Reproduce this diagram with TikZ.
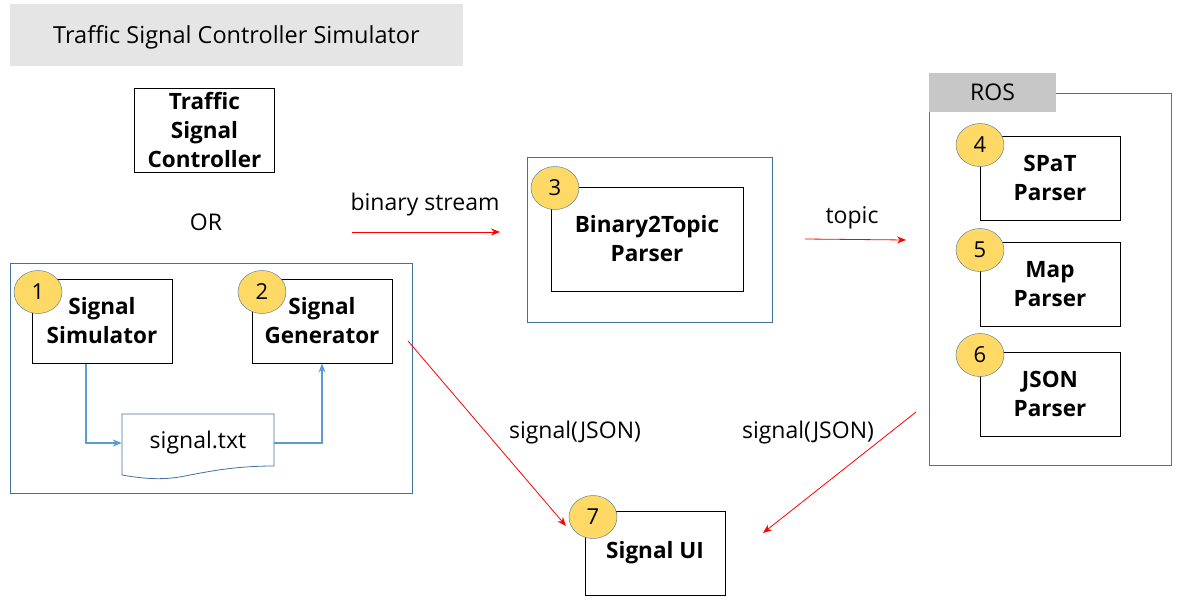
\documentclass[tikz,border=0pt]{standalone}
\usepackage{fontspec}
\setmainfont{Open Sans}
\usetikzlibrary{arrows.meta}
\definecolor{boxblue}{HTML}{41719C}
\definecolor{lineblue}{HTML}{5B9BD5}
\definecolor{numyellow}{HTML}{FFD966}
\tikzset{
  blk/.style={draw,line width=1pt,minimum width=140pt,minimum height=84pt,align=center,font=\fontsize{22.5}{29}\selectfont\bfseries},
  num/.style={draw=boxblue,fill=numyellow,ellipse,minimum width=48pt,minimum height=43pt,inner sep=0pt,font=\fontsize{22}{24}\selectfont},
  grp/.style={draw=boxblue,line width=1pt},
  lbl/.style={font=\fontsize{23}{26}\selectfont},
  redarr/.style={red,line width=0.8pt,-{Stealth[length=9pt,width=7pt]}},
  bluearr/.style={lineblue,line width=1.2pt,-{Stealth[length=9pt,width=7pt]}}
}
\usetikzlibrary{shapes.geometric}
\begin{document}
\begin{tikzpicture}[x=1pt,y=-1pt]
      \useasboundingbox (0,0) rectangle (1189,608);

      % title
      \node[fill=black!10,minimum width=453pt,minimum height=62pt] (title) at (236.5,35) {};
      \node[font=\fontsize{23.5}{26}\selectfont] (ttext) at (236.5,37) {Traffic Signal Controller Simulator};

      \node[blk] (tsc) at (204.5,130) {Traffic\\Signal\\Controller};
      \node[lbl] (or) at (206,222) {OR};

      % simulator group
      \draw[grp] (10,263) rectangle (412,493);
      \node[blk] (sim) at (102,321) {Signal\\Simulator};
      \node[blk] (gen) at (322,321) {Signal\\Generator};
      \node[num] (n1) at (38,292) {1};
      \node[num] (n2) at (262,292) {2};
      \node[minimum width=152pt,minimum height=66pt,lbl] (txt) at (198,443) {signal.txt};
      \draw[boxblue,line width=0.8pt] (122,475) -- (122,414) -- (274,414) -- (274,466)
        .. controls (240,466) and (215,470) .. (185,476) .. controls (160,481) and (140,478) .. (122,475);
      \draw[bluearr] ([xshift=-16pt]sim.south) |- (txt.west);
      \draw[bluearr] (txt.east) -| (gen.south);

      % parser
      \draw[grp] (527,157) rectangle (772,322);
      \node[blk,minimum width=192pt,minimum height=104pt] (b2t) at (647,239) {Binary2Topic\\Parser};
      \node[num] (n3) at (555,188) {3};

      % ROS
      \draw[draw=boxblue!80!gray,line width=1pt] (1056,93) -- (1171,93) -- (1171,465) -- (929,465) -- (929,112);
      \node[fill=black!22,minimum width=127pt,minimum height=39pt,lbl] (ros) at (992.5,92.5) {ROS};
      \node[blk] (spat) at (1050,178) {SPaT\\Parser};
      \node[blk] (map) at (1050,284) {Map\\Parser};
      \node[blk] (json) at (1050,394) {JSON\\Parser};
      \node[num] (n4) at (980,145) {4};
      \node[num] (n5) at (980,250) {5};
      \node[num] (n6) at (980,355) {6};

      % ui
      \node[blk] (ui) at (655,553) {Signal UI};
      \node[num] (n7) at (593,517) {7};

      % flows
      \coordinate (bs1) at (352,232);
      \coordinate (bs2) at (500,232);
      \coordinate (tp1) at (805,239);
      \coordinate (tp2) at (906,240);
      \coordinate (js1) at (408,341);
      \coordinate (js2) at (566,526);
      \coordinate (js3) at (916,412);
      \coordinate (js4) at (763,533);
      \draw[redarr] (bs1) -- (bs2);
      \draw[redarr] (tp1) -- (tp2);
      \draw[redarr] (js1) -- (js2);
      \draw[redarr] (js3) -- (js4);
      \node[lbl] (lbs) at (425,205) {binary stream};
      \node[lbl] (ltp) at (852,218) {topic};
      \node[lbl] (lj1) at (575,433) {signal(JSON)};
      \node[lbl] (lj2) at (808,433) {signal(JSON)};
    \end{tikzpicture}
\end{document}
